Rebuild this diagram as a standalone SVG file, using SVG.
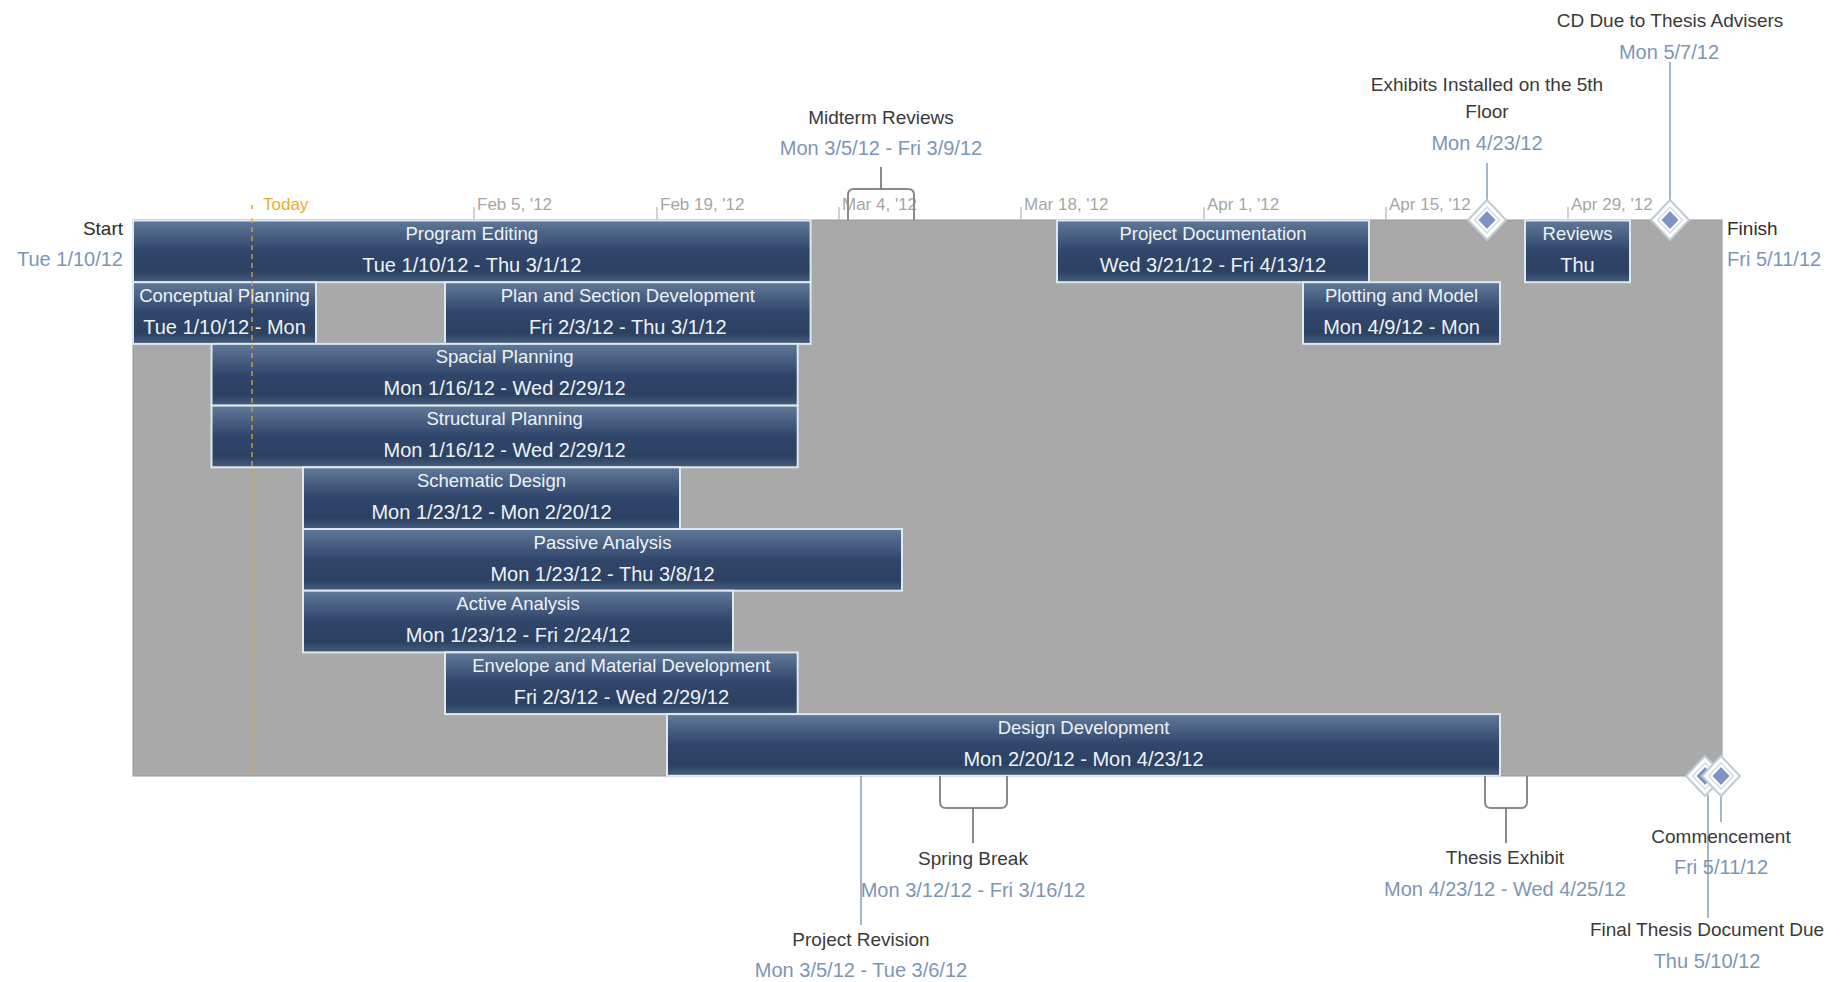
<svg xmlns="http://www.w3.org/2000/svg" xmlns:xlink="http://www.w3.org/1999/xlink" width="1842" height="982" viewBox="0 0 1842 982">
<defs>
<linearGradient id="barGrad" x1="0" y1="0" x2="0" y2="1">
<stop offset="0" stop-color="#617999"/>
<stop offset="0.5" stop-color="#30456a"/>
<stop offset="0.82" stop-color="#2c4162"/>
<stop offset="1" stop-color="#465d7e"/>
</linearGradient>
<g id="dia">
<polygon points="0,-20 19,0 0,20 -19,0" fill="#ffffff" stroke="#c3cad3" stroke-width="2"/>
<polygon points="0,-13 12.5,0 0,13 -12.5,0" fill="#ffffff" stroke="#d4dbe6" stroke-width="1.5"/>
<polygon points="0,-9 8.5,0 0,9 -8.5,0" fill="#7d93c6"/>
</g>
</defs>
<style>
text{font-family:"Liberation Sans",Arial,sans-serif;}
.bar{fill:url(#barGrad);stroke:#dfe7ef;stroke-width:2;}
.bt{fill:#eef2f7;font-size:18.5px;text-anchor:middle;}
.bd{fill:#eef2f7;font-size:20px;text-anchor:middle;}
.ax{fill:#a6a6a6;font-size:17px;}
.tick{stroke:#b4b4b4;stroke-width:1.2;}
.ttl{fill:#3a3a3a;font-size:19px;text-anchor:middle;}
.dt{fill:#7d95b5;font-size:20px;text-anchor:middle;}
.brk{fill:none;stroke:#8a8a8a;stroke-width:2;}
.ln{stroke:#8ea3c0;stroke-width:1.6;}
.lnd{stroke:#6f6f6f;stroke-width:1.6;}
</style>
<rect x="0" y="0" width="1842" height="982" fill="#ffffff"/>

<g id="timeline-bg">
<rect x="133" y="220" width="1589" height="556" fill="#a9a9a9" stroke="#979797" stroke-width="1"/>
</g>

<g id="axis">
<line class="tick" x1="474" y1="207" x2="474" y2="220"/>
<line class="tick" x1="657" y1="207" x2="657" y2="220"/>
<line class="tick" x1="839" y1="207" x2="839" y2="220"/>
<line class="tick" x1="1021" y1="207" x2="1021" y2="220"/>
<line class="tick" x1="1204" y1="207" x2="1204" y2="220"/>
<line class="tick" x1="1386" y1="207" x2="1386" y2="220"/>
<line class="tick" x1="1568" y1="207" x2="1568" y2="220"/>
<text class="ax" x="477" y="210">Feb 5, '12</text>
<text class="ax" x="660" y="210">Feb 19, '12</text>
<text class="ax" x="842" y="210">Mar 4, '12</text>
<text class="ax" x="1024" y="210">Mar 18, '12</text>
<text class="ax" x="1207" y="210">Apr 1, '12</text>
<text class="ax" x="1389" y="210">Apr 15, '12</text>
<text class="ax" x="1571" y="210">Apr 29, '12</text>
</g>

<g id="start">
<text x="123" y="235" font-size="19" fill="#2e2e2e" text-anchor="end">Start</text>
<text x="123" y="266" font-size="20" fill="#7d95b5" text-anchor="end">Tue 1/10/12</text>
</g>
<g id="finish">
<text x="1727" y="235" font-size="19" fill="#2e2e2e">Finish</text>
<text x="1727" y="266" font-size="20" fill="#7d95b5">Fri 5/11/12</text>
</g>

<g id="program-editing">
<rect class="bar" x="133" y="220.5" width="677.6" height="61.7"/>
<text class="bt" x="471.8" y="240">Program Editing</text>
<text class="bd" x="471.8" y="272">Tue 1/10/12 - Thu 3/1/12</text>
</g>
<g id="project-documentation">
<rect class="bar" x="1057" y="220.5" width="312" height="61.7"/>
<text class="bt" x="1213" y="240">Project Documentation</text>
<text class="bd" x="1213" y="272">Wed 3/21/12 - Fri 4/13/12</text>
</g>
<g id="reviews">
<rect class="bar" x="1525" y="220.5" width="105" height="61.7"/>
<text class="bt" x="1577.5" y="240">Reviews</text>
<text class="bd" x="1577.5" y="272">Thu</text>
</g>
<g id="conceptual-planning">
<rect class="bar" x="133" y="282.2" width="183" height="61.7"/>
<text class="bt" x="224.5" y="301.7">Conceptual Planning</text>
<text class="bd" x="224.5" y="333.7">Tue 1/10/12 - Mon</text>
</g>
<g id="plan-section">
<rect class="bar" x="445" y="282.2" width="365.6" height="61.7"/>
<text class="bt" x="627.8" y="301.7">Plan and Section Development</text>
<text class="bd" x="627.8" y="333.7">Fri 2/3/12 - Thu 3/1/12</text>
</g>
<g id="plotting-model">
<rect class="bar" x="1303" y="282.2" width="197" height="61.7"/>
<text class="bt" x="1401.5" y="301.7">Plotting and Model</text>
<text class="bd" x="1401.5" y="333.7">Mon 4/9/12 - Mon</text>
</g>
<g id="spacial-planning">
<rect class="bar" x="211.5" y="343.9" width="586.2" height="61.7"/>
<text class="bt" x="504.6" y="363.4">Spacial Planning</text>
<text class="bd" x="504.6" y="395.4">Mon 1/16/12 - Wed 2/29/12</text>
</g>
<g id="structural-planning">
<rect class="bar" x="211.5" y="405.6" width="586.2" height="61.7"/>
<text class="bt" x="504.6" y="425.1">Structural Planning</text>
<text class="bd" x="504.6" y="457.1">Mon 1/16/12 - Wed 2/29/12</text>
</g>
<g id="schematic-design">
<rect class="bar" x="303" y="467.3" width="377" height="61.7"/>
<text class="bt" x="491.5" y="486.8">Schematic Design</text>
<text class="bd" x="491.5" y="518.8">Mon 1/23/12 - Mon 2/20/12</text>
</g>
<g id="passive-analysis">
<rect class="bar" x="303" y="529" width="599" height="61.7"/>
<text class="bt" x="602.5" y="548.5">Passive Analysis</text>
<text class="bd" x="602.5" y="580.5">Mon 1/23/12 - Thu 3/8/12</text>
</g>
<g id="active-analysis">
<rect class="bar" x="303" y="590.7" width="430" height="61.7"/>
<text class="bt" x="518" y="610.2">Active Analysis</text>
<text class="bd" x="518" y="642.2">Mon 1/23/12 - Fri 2/24/12</text>
</g>
<g id="envelope-material">
<rect class="bar" x="445" y="652.4" width="352.7" height="61.7"/>
<text class="bt" x="621.4" y="671.9">Envelope and Material Development</text>
<text class="bd" x="621.4" y="703.9">Fri 2/3/12 - Wed 2/29/12</text>
</g>
<g id="design-development">
<rect class="bar" x="667" y="714.1" width="833" height="61.7"/>
<text class="bt" x="1083.5" y="733.6">Design Development</text>
<text class="bd" x="1083.5" y="765.6">Mon 2/20/12 - Mon 4/23/12</text>
</g>

<g id="today">
<line x1="252" y1="218" x2="252" y2="776" stroke="#e2a43a" stroke-width="1.6" stroke-dasharray="5,4" opacity="0.8"/>
<line x1="252" y1="205" x2="252" y2="209" stroke="#e2a43a" stroke-width="1.6"/>
<text x="263" y="210" font-size="17" fill="#e8ae2e">Today</text>
</g>

<g id="connectors">
<path class="brk" d="M848,220 V195 Q848,189 854,189 H908 Q914,189 914,195 V220"/>
<line class="lnd" x1="881" y1="167" x2="881" y2="189"/>
<line class="ln" x1="1487" y1="163" x2="1487" y2="201"/>
<line class="ln" x1="1670" y1="62" x2="1670" y2="201"/>
<path class="brk" d="M940,776 V802 Q940,808 946,808 H1001 Q1007,808 1007,802 V776"/>
<line class="lnd" x1="973" y1="808" x2="973" y2="843"/>
<path class="brk" d="M1485,776 V802 Q1485,808 1491,808 H1521 Q1527,808 1527,802 V776"/>
<line class="lnd" x1="1506" y1="808" x2="1506" y2="843"/>
<line class="ln" x1="861" y1="776" x2="861" y2="925" stroke="#7b96c0"/>
<line class="ln" x1="1708" y1="795" x2="1708" y2="918"/>
<line class="ln" x1="1721" y1="795" x2="1721" y2="822"/>
</g>

<g id="midterm-reviews">
<text class="ttl" x="881" y="123.5">Midterm Reviews</text>
<text class="dt" x="881" y="155">Mon 3/5/12 - Fri 3/9/12</text>
</g>
<g id="exhibits-installed">
<use xlink:href="#dia" href="#dia" x="1487" y="220"/>
<text class="ttl" x="1487" y="91">Exhibits Installed on the 5th</text>
<text class="ttl" x="1487" y="118">Floor</text>
<text class="dt" x="1487" y="150">Mon 4/23/12</text>
</g>
<g id="cd-due">
<use xlink:href="#dia" href="#dia" x="1670" y="220"/>
<text class="ttl" x="1670" y="27">CD Due to Thesis Advisers</text>
<text class="dt" x="1669" y="59">Mon 5/7/12</text>
</g>
<g id="spring-break">
<text class="ttl" x="973" y="865">Spring Break</text>
<text class="dt" x="973" y="897">Mon 3/12/12 - Fri 3/16/12</text>
</g>
<g id="thesis-exhibit">
<text class="ttl" x="1505" y="864">Thesis Exhibit</text>
<text class="dt" x="1505" y="896">Mon 4/23/12 - Wed 4/25/12</text>
</g>
<g id="project-revision">
<text class="ttl" x="861" y="946">Project Revision</text>
<text class="dt" x="861" y="977">Mon 3/5/12 - Tue 3/6/12</text>
</g>
<g id="final-thesis">
<use xlink:href="#dia" href="#dia" x="1705" y="776"/>
<text class="ttl" x="1707" y="936">Final Thesis Document Due</text>
<text class="dt" x="1707" y="968">Thu 5/10/12</text>
</g>
<g id="commencement">
<use xlink:href="#dia" href="#dia" x="1721" y="776"/>
<text class="ttl" x="1721" y="842.5">Commencement</text>
<text class="dt" x="1721" y="874">Fri 5/11/12</text>
</g>
</svg>
